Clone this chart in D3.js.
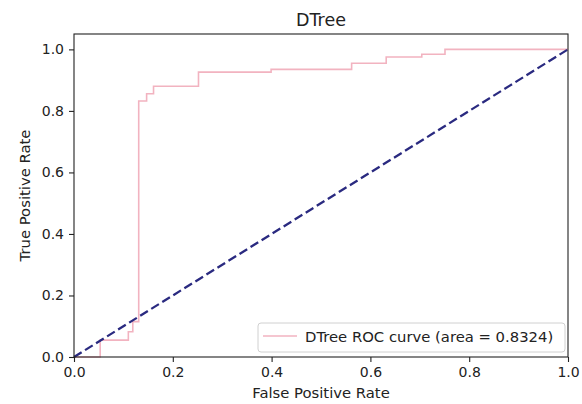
<!DOCTYPE html>
<html>
<head>
<meta charset="utf-8">
<script src="https://cdn.jsdelivr.net/npm/d3@7"></script>
<style>
  body { margin: 0; background: #fff; }
  text { font-family: "DejaVu Sans", sans-serif; fill: #222; }
</style>
</head>
<body>
<div class="chart"></div>
<script>
// roc curve for the decision tree (corners of the steps)
var fpr = [0, 0.053, 0.110, 0.119, 0.131, 0.147, 0.161, 0.252, 0.399, 0.562, 0.632, 0.704, 0.751, 1.0];
var tpr = [0, 0.055, 0.082, 0.115, 0.832, 0.856, 0.880, 0.926, 0.935, 0.955, 0.975, 0.984, 1.0, 1.0];

// chance line
var chanceX = [0, 1];
var chanceY = [0, 1];

var xTicks = [0, 0.2, 0.4, 0.6, 0.8, 1.0];
var yTicks = [0, 0.2, 0.4, 0.6, 0.8, 1.0];

var title = "DTree";
var legendLabel = "DTree ROC curve (area = 0.8324)";

var width = 582;
var height = 404;
var margin = {top: 34, right: 14, bottom: 47, left: 74};

var svg = d3.select(".chart").append("svg")
    .attr("width", width)
    .attr("height", height);

var x = d3.scaleLinear().domain([0, 1]).range([margin.left, width - margin.right]);
var y = d3.scaleLinear().domain([0, 1.05]).range([height - margin.bottom, margin.top]);

var rocData = fpr.map(function(d, i) { return {x: d, y: tpr[i]}; });
var chanceData = chanceX.map(function(d, i) { return {x: d, y: chanceY[i]}; });

var stepLine = d3.line()
    .x(function(d) { return x(d.x); })
    .y(function(d) { return y(d.y); })
    .curve(d3.curveStepAfter);

var straight = d3.line()
    .x(function(d) { return x(d.x); })
    .y(function(d) { return y(d.y); });

svg.append("path")
    .datum(rocData)
    .attr("d", stepLine)
    .attr("fill", "none")
    .attr("stroke", "#f2b3c0")
    .attr("stroke-width", 1.6);

svg.append("path")
    .datum(chanceData)
    .attr("d", straight)
    .attr("fill", "none")
    .attr("stroke", "#2a2a80")
    .attr("stroke-width", 2.3)
    .attr("stroke-dasharray", "9,4");

// axes
var fmt = d3.format(".1f");

var xAxis = svg.append("g")
    .attr("transform", "translate(0," + (height - margin.bottom) + ")")
    .call(d3.axisBottom(x).tickValues(xTicks).tickFormat(fmt).tickSize(5).tickPadding(5).tickSizeOuter(0));

var yAxis = svg.append("g")
    .attr("transform", "translate(" + margin.left + ",0)")
    .call(d3.axisLeft(y).tickValues(yTicks).tickFormat(fmt).tickSize(5).tickPadding(5).tickSizeOuter(0));

[xAxis, yAxis].forEach(function(g) {
  g.select(".domain").remove();
  g.selectAll(".tick line").attr("stroke", "#222").attr("stroke-width", 1.1);
  g.selectAll(".tick text").style("font-size", "14px").attr("fill", "#222");
});

// frame
svg.append("rect")
    .attr("x", margin.left)
    .attr("y", margin.top)
    .attr("width", width - margin.left - margin.right)
    .attr("height", height - margin.top - margin.bottom)
    .attr("fill", "none")
    .attr("stroke", "#222")
    .attr("stroke-width", 1.1);

svg.append("text")
    .attr("x", (margin.left + width - margin.right) / 2)
    .attr("y", margin.top - 8)
    .attr("text-anchor", "middle")
    .style("font-size", "17.5px")
    .text(title);

svg.append("text")
    .attr("x", (margin.left + width - margin.right) / 2)
    .attr("y", height - 6)
    .attr("text-anchor", "middle")
    .style("font-size", "14.8px")
    .text("False Positive Rate");

svg.append("text")
    .attr("transform", "translate(30," + ((margin.top + height - margin.bottom) / 2) + ") rotate(-90)")
    .attr("text-anchor", "middle")
    .style("font-size", "14.8px")
    .text("True Positive Rate");

// legend
var legend = svg.append("g");

legend.append("rect")
    .attr("x", 258)
    .attr("y", 323)
    .attr("width", 307)
    .attr("height", 29)
    .attr("rx", 3)
    .attr("fill", "#fff")
    .attr("fill-opacity", 0.8)
    .attr("stroke", "#d0d0d0")
    .attr("stroke-width", 1);

legend.append("line")
    .attr("x1", 263).attr("x2", 297)
    .attr("y1", 336).attr("y2", 336)
    .attr("stroke", "#f2b3c0")
    .attr("stroke-width", 1.6);

legend.append("text")
    .attr("x", 305)
    .attr("y", 342)
    .style("font-size", "14.8px")
    .text(legendLabel);
</script>
</body>
</html>
